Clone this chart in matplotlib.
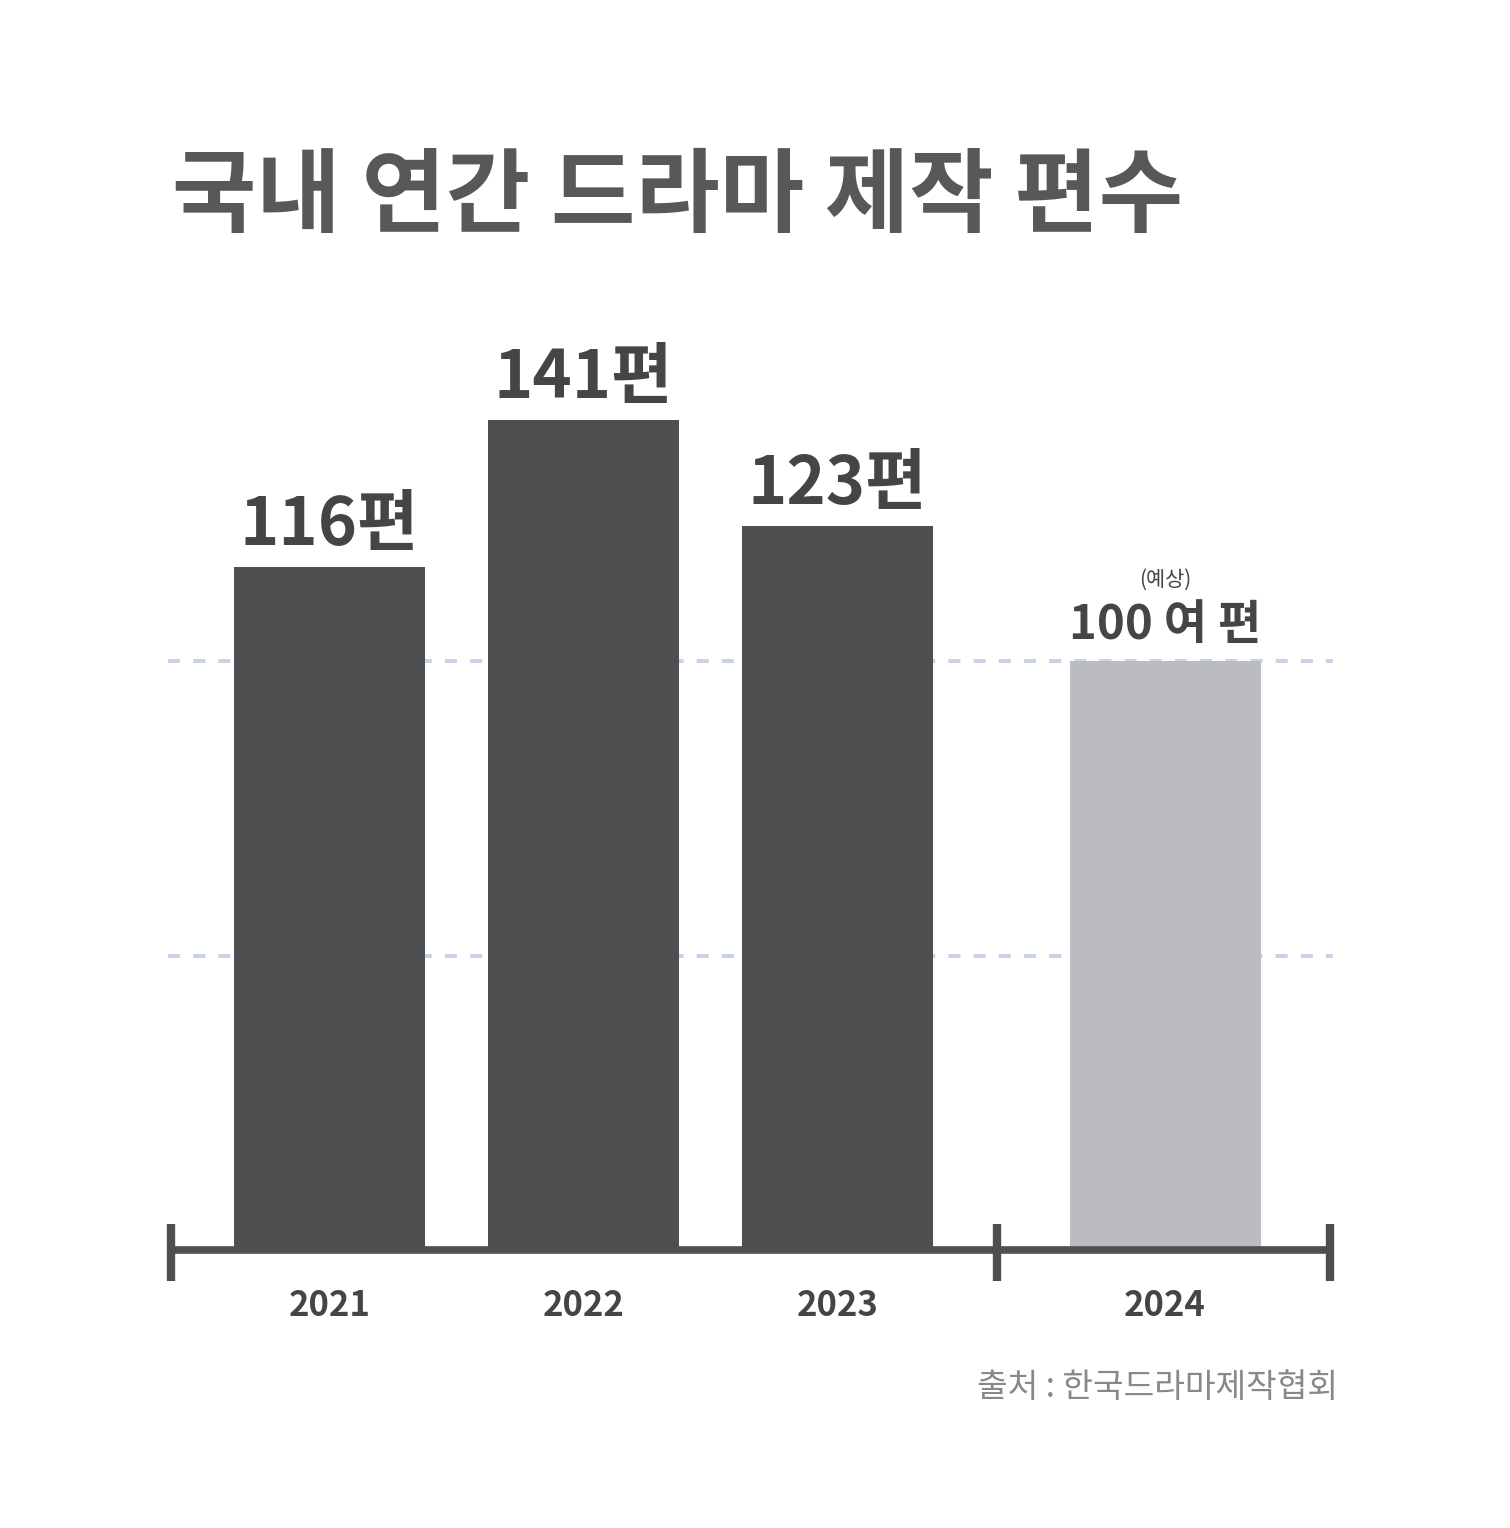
import matplotlib.pyplot as plt

plt.rcParams['font.family'] = ['Noto Sans CJK KR', 'DejaVu Sans']

# data
years = ['2021', '2022', '2023', '2024']
counts = [116, 141, 123, 100]
value_labels = ['116편', '141편', '123편', '100 여 편']
grid_values = [50, 100]

xpos = [0, 1, 2, 3.29]
dark = '#4e4f51'
light = '#bbbcc0'
colors = [dark, dark, dark, light]

fig = plt.figure(figsize=(15.1, 15.28), dpi=100)
ax = fig.add_axes([168 / 1510, 1 - 1250 / 1528, (1333 - 168) / 1510, (1250 - 250) / 1528])
ax.set_xlim(-0.636, 3.951)
ax.set_ylim(0, 169.8)
ax.axis('off')

# dashed guides behind the bars
for g in grid_values:
    ax.axhline(g, color='#c8d2e8', lw=2.9, dashes=(3.0, 3.25), zorder=0)

ax.bar(xpos, counts, width=0.752, color=colors, zorder=2)

# value labels
for x, v, lab, i in zip(xpos, counts, value_labels, range(4)):
    if i < 3:
        ax.text(x, v + 3.7, lab, ha='center', va='baseline', fontsize=48,
                fontweight='bold', color='#444547')
    else:
        ax.text(x, v + 3.7, lab, ha='center', va='baseline', fontsize=34,
                fontweight='bold', color='#444547')
        ax.text(x, v + 12.8, '(예상)', ha='center', va='baseline', fontsize=15,
                color='#444547')

# axis with end ticks
x0, x1 = ax.get_xlim()
ax.plot([x0, x1], [0, 0], color=dark, lw=5.5, solid_capstyle='butt', clip_on=False, zorder=3)
for tx in [x0 + 0.01, 2.628, x1 - 0.01]:
    ax.plot([tx, tx], [4.4, -5.3], color=dark, lw=6, solid_capstyle='butt', clip_on=False, zorder=3)

for x, y in zip(xpos, years):
    ax.text(x, -6.4, y, ha='center', va='top', fontsize=25, fontweight='bold', color='#444547')

fig.text(172 / 1510, 1 - 198 / 1528, '국내 연간 드라마 제작 편수', ha='left', va='center',
         fontsize=66, fontweight='bold', color='#58585a')
fig.text(1338 / 1510, 1 - 1388 / 1528, '출처 : 한국드라마제작협회', ha='right', va='center',
         fontsize=24, color='#88888b')

fig.savefig('out.png', dpi=100, facecolor='white')
